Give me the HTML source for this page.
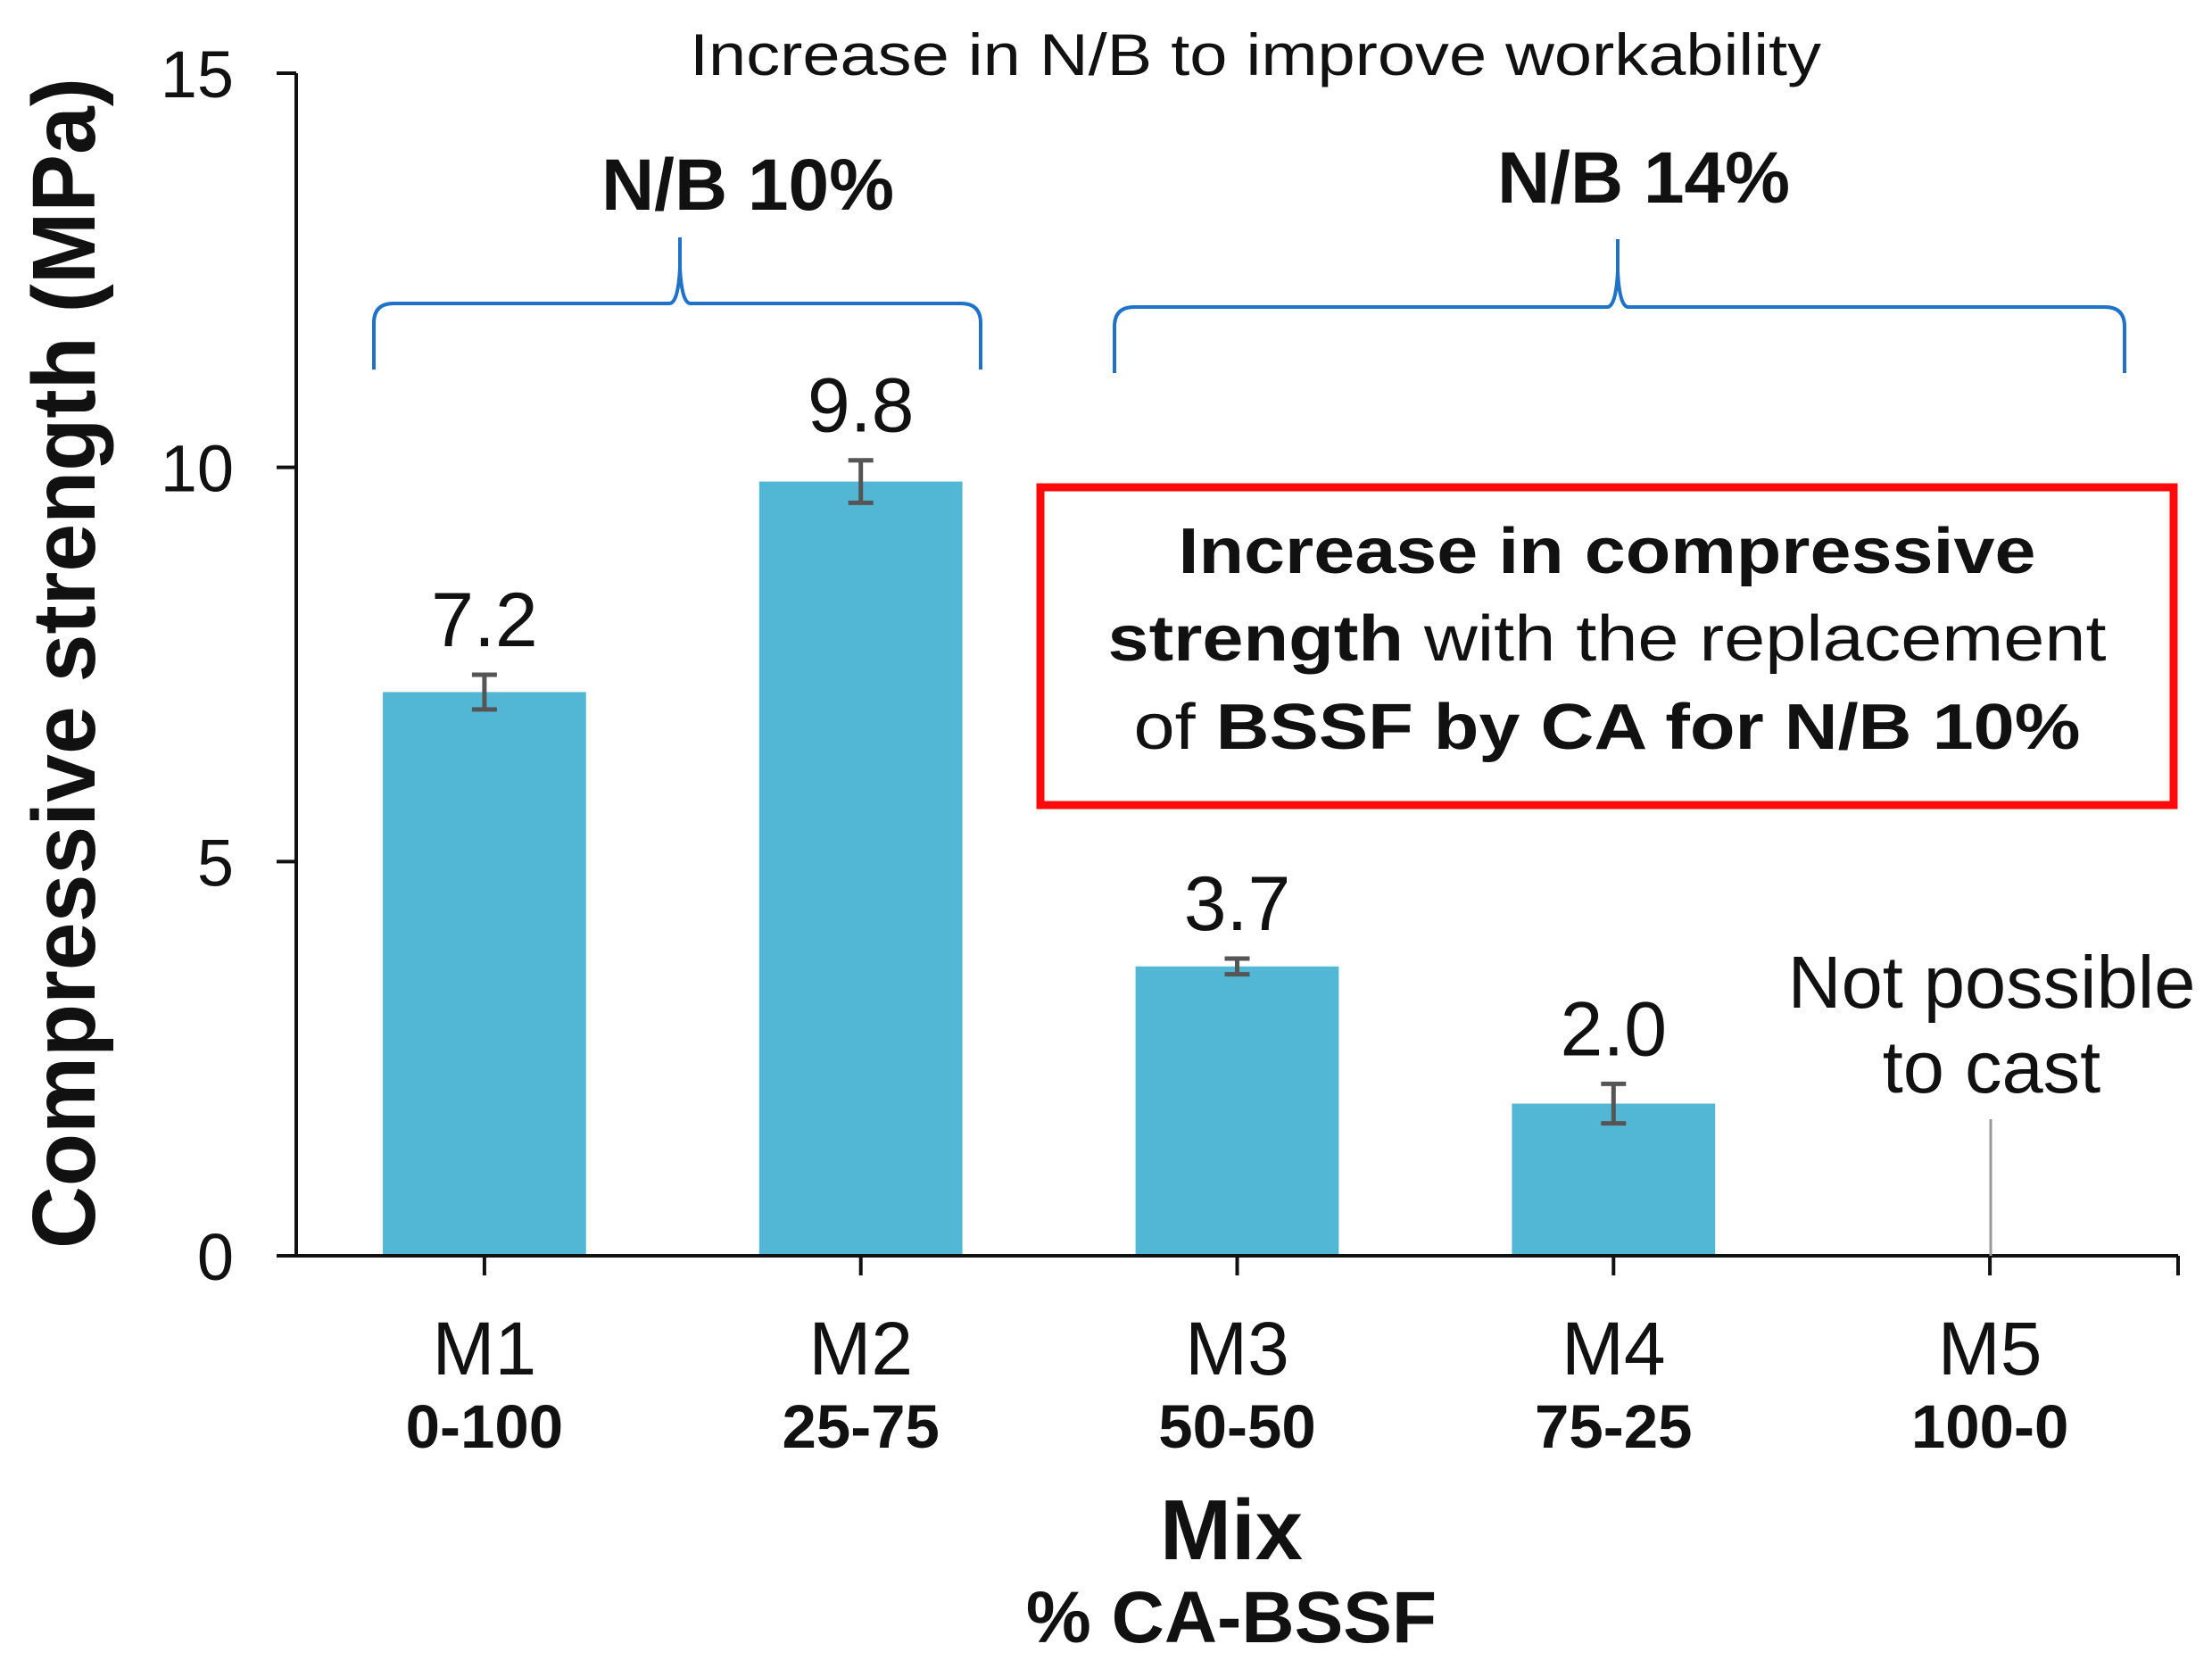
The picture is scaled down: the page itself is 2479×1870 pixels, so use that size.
<!DOCTYPE html>
<html><head><meta charset="utf-8"><style>
html,body{margin:0;padding:0;background:#fff;}
svg{display:block;font-family:"Liberation Sans",Arial,sans-serif;}
</style></head><body>
<svg id="chart" width="2479" height="1870" viewBox="0 0 2479 1870" xmlns="http://www.w3.org/2000/svg">
<rect width="2479" height="1870" fill="#fff"/>
<text x="1407" y="84" font-size="66" text-anchor="middle" fill="#111" textLength="1268" lengthAdjust="spacingAndGlyphs">Increase in N/B to improve workability</text>
<text x="838" y="235" font-size="82" font-weight="bold" text-anchor="middle" fill="#111">N/B 10%</text>
<text x="1842" y="227" font-size="82" font-weight="bold" text-anchor="middle" fill="#111">N/B 14%</text>
<path d="M419 414 L419 362 Q419 340 441 340 L750 340 Q760 340 762 300 L762 266 L762 300 Q764 340 774 340 L1077 340 Q1099 340 1099 362 L1099 414" fill="none" stroke="#1f72c6" stroke-width="4"/>
<path d="M1249 418 L1249 366 Q1249 344 1271 344 L1801 344 Q1811 344 1813 304 L1813 268 L1813 304 Q1815 344 1825 344 L2359 344 Q2381 344 2381 366 L2381 418" fill="none" stroke="#1f72c6" stroke-width="4"/>
<g id="yaxis"></g>
<g id="bars"></g>
<g id="xaxis"></g>
<text transform="translate(106,743) rotate(-90)" font-size="100" font-weight="bold" text-anchor="middle" fill="#111" textLength="1312" lengthAdjust="spacingAndGlyphs">Compressive strength  (MPa)</text>
<text x="1380" y="1747" font-size="96" font-weight="bold" text-anchor="middle" fill="#111">Mix</text>
<text x="1380" y="1840" font-size="82" font-weight="bold" text-anchor="middle" fill="#111">% CA-BSSF</text>
<rect x="1166" y="546" width="1270" height="356" fill="none" stroke="#ff0a0a" stroke-width="9"/>
<text x="1801" y="642" font-size="72" font-weight="bold" text-anchor="middle" fill="#111" textLength="961" lengthAdjust="spacingAndGlyphs">Increase in compressive</text>
<text x="1801" y="740" font-size="72" text-anchor="middle" fill="#111" textLength="1119" lengthAdjust="spacingAndGlyphs"><tspan font-weight="bold">strength</tspan> with the replacement</text>
<text x="1801" y="839" font-size="72" text-anchor="middle" fill="#111" textLength="1061" lengthAdjust="spacingAndGlyphs">of <tspan font-weight="bold">BSSF by CA for N/B 10%</tspan></text>
<text x="2232" y="1129" font-size="83" text-anchor="middle" fill="#111">Not possible</text>
<text x="2232" y="1224" font-size="83" text-anchor="middle" fill="#111">to cast</text>
<line x1="2231" y1="1254" x2="2231" y2="1407" stroke="#999" stroke-width="3"/>
</svg>
<script>
const categories = ["M1","M2","M3","M4","M5"];
const ratios = ["0-100","25-75","50-50","75-25","100-0"];
const strength = [7.15, 9.82, 3.67, 1.93, null];
const errors = [0.22, 0.27, 0.1, 0.25, null];
const valueLabels = ["7.2","9.8","3.7","2.0",""];
const yTicks = [0,5,10,15];

const NS="http://www.w3.org/2000/svg";
const X0=332, X1=2441, Y0=1407, Y15=82;
const step=(X1-X0)/categories.length;
const xC=i=>X0+step*(i+0.5);
const yS=v=>Y0-(v/15)*(Y0-Y15);
function mk(tag,attrs,parent,txt){const e=document.createElementNS(NS,tag);for(const k in attrs)e.setAttribute(k,attrs[k]);if(txt!==undefined)e.textContent=txt;parent.appendChild(e);return e;}
const ya=document.getElementById('yaxis'), xa=document.getElementById('xaxis'), bg=document.getElementById('bars');
let l=mk('line',{x1:X0,y1:Y15,x2:X0,y2:Y0,stroke:'#111','stroke-width':4},ya);


yTicks.forEach(t=>{
  const tk=mk('line',{x1:X0-22,y1:yS(t),x2:X0,y2:yS(t),stroke:'#111','stroke-width':4},ya);
  
  
  const tl=mk('text',{x:262,y:yS(t)+27,'font-size':74,'text-anchor':'end',fill:'#111'},ya,String(t));
  
  
});
const bw=step*0.54;
categories.forEach((c,i)=>{
  const cx=xC(i);
  if(strength[i]!=null){
    const r=mk('rect',{x:cx-bw/2,y:yS(strength[i]),width:bw,height:Y0-yS(strength[i]),fill:'#52b7d5'},bg);
    
    
    const lo=yS(strength[i]-errors[i]), hi=yS(strength[i]+errors[i]);
    const eb=mk('path',{d:`M${cx} ${lo}L${cx} ${hi}M${cx-14} ${lo}L${cx+14} ${lo}M${cx-14} ${hi}L${cx+14} ${hi}`,stroke:'#555','stroke-width':5,fill:'none'},bg);
    
    
    const vl=mk('text',{x:cx,y:hi-32,'font-size':86,'text-anchor':'middle',fill:'#111'},bg,valueLabels[i]);
    
    
  }
  const tk=mk('line',{x1:cx,y1:Y0,x2:cx,y2:Y0+22,stroke:'#111','stroke-width':4},xa);
  
  
  const t1=mk('text',{x:cx,y:1540,'font-size':84,'text-anchor':'middle',fill:'#111'},xa,c);
  
  
  const t2=mk('text',{x:cx,y:1622,'font-size':69,'font-weight':'bold','text-anchor':'middle',fill:'#111'},xa,ratios[i]);
  
  
});
const xl=mk('line',{x1:X0,y1:Y0,x2:X1,y2:Y0,stroke:'#111','stroke-width':4},xa);


const xe=mk('line',{x1:X1,y1:Y0,x2:X1,y2:Y0+22,stroke:'#111','stroke-width':4},xa);


</script>
</body></html>
